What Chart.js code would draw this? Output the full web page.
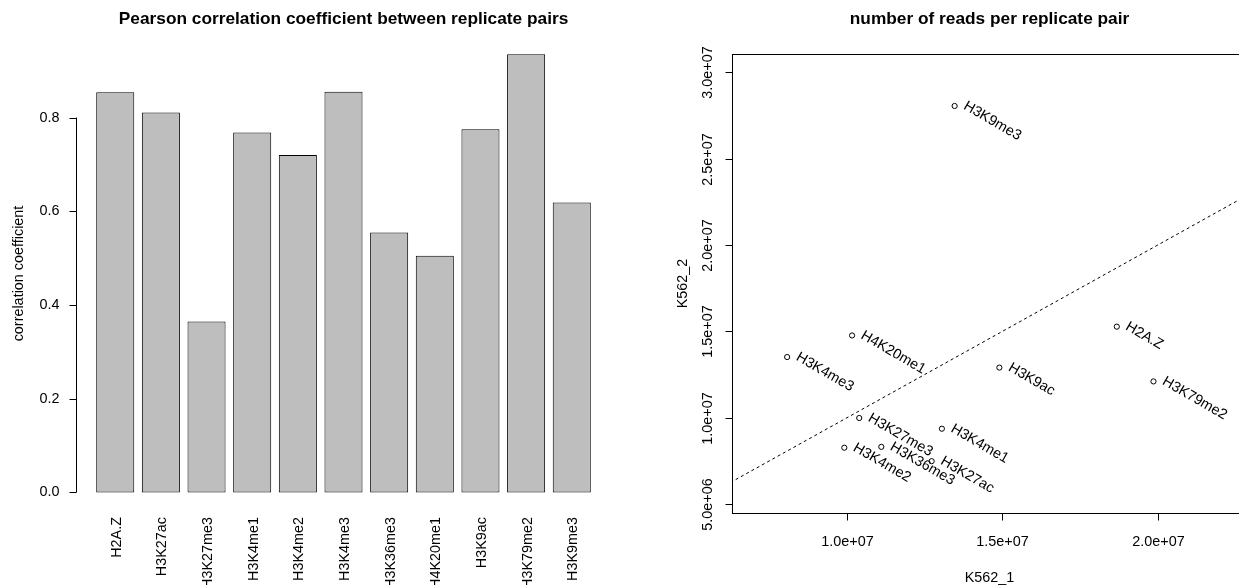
<!DOCTYPE html>
<html>
<head>
<meta charset="utf-8">
<script src="https://cdn.jsdelivr.net/npm/chart.js@4.4.1/dist/chart.umd.min.js"></script>
<style>
  html, body { margin: 0; padding: 0; background: #fff; overflow: hidden; }
  #wrap { position: relative; width: 1239px; height: 585px; overflow: hidden; }
  #bars { position: absolute; left: 0; top: 0; }
  #reads { position: absolute; left: 620px; top: 0; }
</style>
</head>
<body>
<div id="wrap">
  <canvas id="bars" width="620" height="585"></canvas>
  <canvas id="reads" width="700" height="585"></canvas>
</div>
<script>
// === DATA ===
const marks = ['H2A.Z', 'H3K27ac', 'H3K27me3', 'H3K4me1', 'H3K4me2', 'H3K4me3',
               'H3K36me3', 'H4K20me1', 'H3K9ac', 'H3K79me2', 'H3K9me3'];
const correlation = [0.854, 0.811, 0.365, 0.768, 0.720, 0.855, 0.555, 0.505, 0.775, 0.935, 0.619];
const corrTicks = [0, 0.2, 0.4, 0.6, 0.8];
const corrTickLabels = ['0.0', '0.2', '0.4', '0.6', '0.8'];

const pointNames = ['H2A.Z', 'H3K27ac', 'H3K27me3', 'H3K4me1', 'H3K4me2', 'H3K4me3',
                    'H3K36me3', 'H4K20me1', 'H3K9ac', 'H3K79me2', 'H3K9me3'];
const readsRep1 = [18.68e6, 12.72e6, 10.39e6, 13.05e6, 9.91e6, 8.07e6, 11.10e6, 10.16e6, 14.90e6, 19.86e6, 13.46e6];
const readsRep2 = [15.27e6, 7.48e6, 9.98e6, 9.36e6, 8.26e6, 13.51e6, 8.31e6, 14.76e6, 12.90e6, 12.10e6, 28.05e6];
const readTicksX = [1.0e7, 1.5e7, 2.0e7];
const readTickLabelsX = ['1.0e+07', '1.5e+07', '2.0e+07'];
const readTicksY = [5.0e6, 1.0e7, 1.5e7, 2.0e7, 2.5e7, 3.0e7];
const readTickLabelsY = ['5.0e+06', '1.0e+07', '1.5e+07', '2.0e+07', '2.5e+07', '3.0e+07'];
const diagonal = [0, 4.0e7]; // y = x reference line

// === STYLE ===
const FONT = "'Liberation Sans', Arial, Helvetica, sans-serif";
const TEXT = `14.4px ${FONT}`;
const TITLE = `bold 17.3px ${FONT}`;

Chart.defaults.animation = false;
Chart.defaults.font.family = FONT;

function line(ctx, x1, y1, x2, y2) {
    ctx.beginPath();
    ctx.moveTo(x1, y1);
    ctx.lineTo(x2, y2);
    ctx.stroke();
}

function vText(ctx, str, x, y, align, baseline) {
    ctx.save();
    ctx.translate(x, y);
    ctx.rotate(-Math.PI / 2);
    ctx.textAlign = align;
    ctx.textBaseline = baseline;
    ctx.fillText(str, 0, 0);
    ctx.restore();
}

// === LEFT: BARPLOT ===
const barAxes = {
    id: 'barAxes',
    afterDraw(chart) {
        const { ctx, chartArea, scales: { x, y } } = chart;
        const axisX = Math.round(chartArea.left - 16) + 0.5;
        ctx.save();
        ctx.strokeStyle = '#000';
        ctx.fillStyle = '#000';
        ctx.lineWidth = 1;

        line(ctx, axisX, y.getPixelForValue(corrTicks[0]), axisX, y.getPixelForValue(corrTicks[corrTicks.length - 1]));
        ctx.font = TEXT;
        ctx.textAlign = 'right';
        ctx.textBaseline = 'middle';
        corrTicks.forEach((v, i) => {
            const py = Math.round(y.getPixelForValue(v)) + 0.5;
            line(ctx, axisX, py, axisX - 7, py);
            ctx.fillText(corrTickLabels[i], axisX - 17, py);
        });

        vText(ctx, 'correlation coefficient', 23, (chartArea.top + chartArea.bottom) / 2, 'center', 'alphabetic');

        marks.forEach((m, i) => {
            vText(ctx, m, x.getPixelForValue(i) + 1.5, 517, 'right', 'middle');
        });

        ctx.font = TITLE;
        ctx.textAlign = 'center';
        ctx.textBaseline = 'alphabetic';
        ctx.fillText('Pearson correlation coefficient between replicate pairs', (axisX + chartArea.right + 16) / 2, 24);
        ctx.restore();
    }
};

new Chart(document.getElementById('bars'), {
    type: 'bar',
    data: {
        labels: marks,
        datasets: [{
            data: correlation,
            backgroundColor: '#bebebe',
            borderColor: '#000',
            borderWidth: 1,
            borderSkipped: false,
            barPercentage: 1 / 1.2,
            categoryPercentage: 1
        }]
    },
    options: {
        responsive: false,
        devicePixelRatio: 1,
        layout: { padding: { left: 92.4, right: 25.4, top: 37, bottom: 75 } },
        plugins: { legend: { display: false }, tooltip: { enabled: false } },
        scales: {
            x: { type: 'category', display: false, offset: true },
            y: { type: 'linear', display: false, min: -0.0374, max: 0.9719 }
        }
    },
    plugins: [barAxes]
});

// === RIGHT: SCATTER ===
const readAxes = {
    id: 'readAxes',
    afterDraw(chart) {
        const { ctx, chartArea, scales: { x, y } } = chart;
        const left = Math.round(chartArea.left) + 0.5;
        const top = Math.round(chartArea.top) + 0.5;
        const bottom = Math.round(chartArea.bottom) + 0.5;
        const right = Math.round(chartArea.right) + 0.5;
        ctx.save();
        ctx.strokeStyle = '#000';
        ctx.fillStyle = '#000';
        ctx.lineWidth = 1;
        ctx.strokeRect(left, top, right - left, bottom - top);

        ctx.font = TEXT;
        // x axis
        line(ctx, x.getPixelForValue(readTicksX[0]), bottom, x.getPixelForValue(readTicksX[readTicksX.length - 1]), bottom);
        ctx.textAlign = 'center';
        ctx.textBaseline = 'alphabetic';
        readTicksX.forEach((v, i) => {
            const px = Math.round(x.getPixelForValue(v)) + 0.5;
            line(ctx, px, bottom, px, bottom + 7);
            ctx.fillText(readTickLabelsX[i], px, 546);
        });
        // y axis
        line(ctx, left, y.getPixelForValue(readTicksY[0]), left, y.getPixelForValue(readTicksY[readTicksY.length - 1]));
        readTicksY.forEach((v, i) => {
            const py = Math.round(y.getPixelForValue(v)) + 0.5;
            line(ctx, left, py, left - 7, py);
            vText(ctx, readTickLabelsY[i], 712 - 620, py, 'center', 'alphabetic');
        });

        ctx.fillText('K562_1', (chartArea.left + chartArea.right) / 2, 582);
        vText(ctx, 'K562_2', 687 - 620, (chartArea.top + chartArea.bottom) / 2, 'center', 'alphabetic');

        // point labels, rotated like srt = -30
        const meta = chart.getDatasetMeta(0);
        ctx.save();
        ctx.beginPath();
        ctx.rect(chartArea.left, chartArea.top, chartArea.right - chartArea.left, chartArea.bottom - chartArea.top + 60);
        ctx.clip();
        meta.data.forEach((pt, i) => {
            ctx.save();
            ctx.translate(pt.x + 10, pt.y - 1);
            ctx.rotate(Math.PI / 6);
            ctx.textAlign = 'left';
            ctx.textBaseline = 'middle';
            ctx.fillText(pointNames[i], 0, 0);
            ctx.restore();
        });
        ctx.restore();

        ctx.font = TITLE;
        ctx.textAlign = 'center';
        ctx.textBaseline = 'alphabetic';
        ctx.fillText('number of reads per replicate pair', (chartArea.left + chartArea.right) / 2, 24);
        ctx.restore();
    }
};

new Chart(document.getElementById('reads'), {
    type: 'scatter',
    data: {
        datasets: [{
            data: readsRep1.map((v, i) => ({ x: v, y: readsRep2[i] })),
            pointStyle: 'circle',
            pointRadius: 2.6,
            backgroundColor: 'rgba(0,0,0,0)',
            borderColor: '#000',
            borderWidth: 1
        }, {
            data: diagonal.map(v => ({ x: v, y: v })),
            showLine: true,
            pointRadius: 0,
            borderColor: '#000',
            borderWidth: 1,
            borderDash: [3, 3]
        }]
    },
    options: {
        responsive: false,
        devicePixelRatio: 1,
        layout: { padding: { left: 112, right: 73, top: 54, bottom: 72 } },
        plugins: { legend: { display: false }, tooltip: { enabled: false } },
        scales: {
            x: { type: 'linear', display: false, min: 6.295e6, max: 22.87e6 },
            y: { type: 'linear', display: false, min: 4.479e6, max: 31.06e6 }
        }
    },
    plugins: [readAxes]
});
</script>
</body>
</html>
